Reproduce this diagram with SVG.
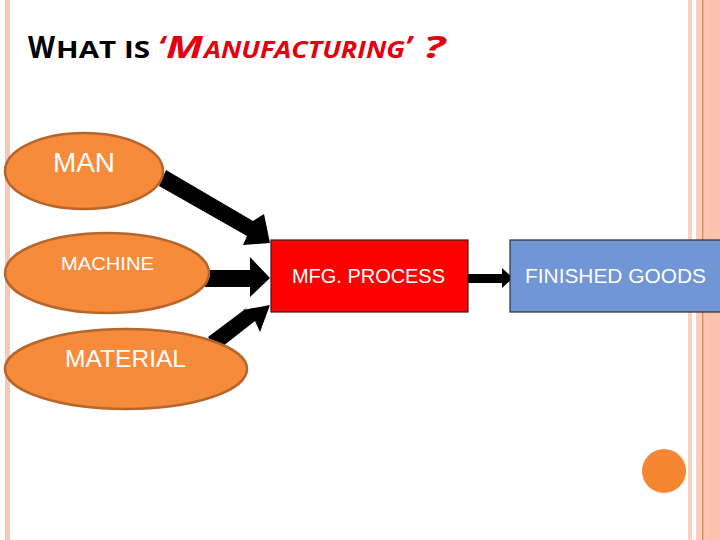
<svg xmlns="http://www.w3.org/2000/svg" width="720" height="540" viewBox="0 0 720 540">
<style>
.ell{fill:#f68b3c;stroke:#b8652c;stroke-width:2.5}
.lbl{font-family:"Liberation Sans",Arial,sans-serif;fill:#ffffff}
.arrow{fill:#000000}
.title{font-family:"Open Sans","Liberation Sans",sans-serif;font-weight:bold}
.red{fill:#e3000f;font-style:italic}
</style>
<rect width="720" height="540" fill="#ffffff"/>
<g id="border">
<rect x="5" y="0" width="5" height="540" fill="#f8c8b5"/>
<rect x="688" y="0" width="4" height="540" fill="#f9d2c2"/>
<rect x="696" y="0" width="24" height="540" fill="#fcc6b1"/>
<rect x="696" y="0" width="6" height="540" fill="#f9cfbf"/>
<rect x="702" y="0" width="1.3" height="540" fill="#d98a60"/>
<rect x="709" y="0" width="11" height="540" fill="#fdc3ae"/>
</g>
<g id="title" class="title">
<text x="28" y="58" font-size="31" fill="#000" textLength="27" lengthAdjust="spacingAndGlyphs">W</text>
<text x="56" y="58" font-size="23" fill="#000" textLength="94" lengthAdjust="spacingAndGlyphs">HAT IS</text>
<text class="red" x="158" y="58" font-size="31">‘</text>
<text class="red" x="166" y="58" font-size="31" textLength="37" lengthAdjust="spacingAndGlyphs">M</text>
<text class="red" x="204" y="58" font-size="23" textLength="201" lengthAdjust="spacingAndGlyphs">ANUFACTURING</text>
<text class="red" x="405" y="58" font-size="31">’</text>
<text class="red" x="423" y="58" font-size="31" textLength="22" lengthAdjust="spacingAndGlyphs">?</text>
</g>
<g id="connectors">
<polygon class="arrow" points="159,186 166,170 253,221 264,214 270,243 243,245 247,236"/>
<polygon class="arrow" points="205,270 250,270 250,257 270,278 250,297 250,287 205,287"/>
<polygon class="arrow" points="218,350 208,337 248,307 243,310 270,305 260,332 255,321"/>
<polygon class="arrow" points="468,274 502,274 502,268 513,278 502,288 502,283 468,283"/>
</g>
<g id="man">
<ellipse class="ell" cx="84" cy="171" rx="79" ry="38"/>
<text class="lbl" x="53" y="172" font-size="27" textLength="62" lengthAdjust="spacingAndGlyphs">MAN</text>
</g>
<g id="machine">
<ellipse class="ell" cx="107" cy="273" rx="102" ry="40"/>
<text class="lbl" x="61" y="270" font-size="19" textLength="93" lengthAdjust="spacingAndGlyphs">MACHINE</text>
</g>
<g id="material">
<ellipse class="ell" cx="126" cy="369" rx="121" ry="40"/>
<text class="lbl" x="65" y="367" font-size="24" textLength="121" lengthAdjust="spacingAndGlyphs">MATERIAL</text>
</g>
<g id="mfg">
<rect x="271" y="240" width="197" height="72" fill="#ff0000" stroke="#3a1a1a" stroke-width="1.2"/>
<text class="lbl" x="292" y="283" font-size="20" textLength="153" lengthAdjust="spacingAndGlyphs">MFG. PROCESS</text>
</g>
<g id="finished">
<rect x="510" y="240" width="215" height="72" fill="#7096d6" stroke="#2a2a3a" stroke-width="1.2"/>
<text class="lbl" x="525" y="283" font-size="20" textLength="181" lengthAdjust="spacingAndGlyphs">FINISHED GOODS</text>
</g>
<circle cx="664" cy="471" r="22" fill="#f68632"/>
</svg>
